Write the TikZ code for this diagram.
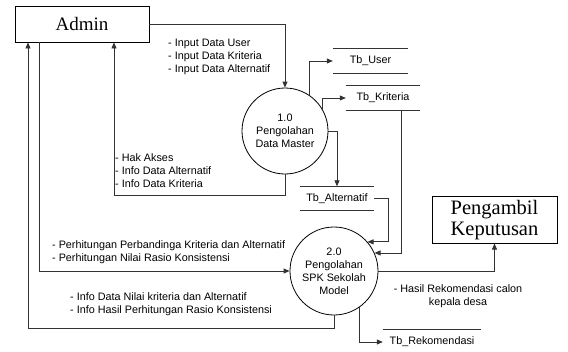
\documentclass[tikz,border=0pt]{standalone}
\usepackage{fontspec}
\setmainfont{Liberation Sans}
\newfontfamily\boxfont{Liberation Serif}
\usetikzlibrary{arrows.meta}

\begin{document}
\begin{tikzpicture}[x=1pt,y=-1pt,font=\fontsize{10.8}{13}\selectfont,
	flow/.style={draw=black!80,line width=0.8pt,-{Triangle[length=6pt,width=5pt]}},
	proc/.style={draw,circle,line width=0.8pt,minimum size=#1,inner sep=0pt,align=center},
	entity/.style={draw,line width=0.8pt,align=center,font=\boxfont\fontsize{19}{21}\selectfont},
	store/.style={minimum width=#1,minimum height=24pt,inner sep=0pt},
	lbl/.style={align=left,anchor=west,inner sep=0pt}]
	\useasboundingbox (0,0) rectangle (568,351);
	\node [entity,minimum width=134pt,minimum height=36pt] (admin) at (82,24) {Admin};
	\node [entity,minimum width=125pt,minimum height=44pt,font=\boxfont\fontsize{20.5}{21}\selectfont] (pk) at (494.5,220) {Pengambil\\Keputusan};
	\node [proc=86pt] (p1) at (285,131) {1.0\\Pengolahan\\Data Master};
	\node [proc=88pt] (p2) at (334,271) {2.0\\Pengolahan\\SPK Sekolah\\Model};
	\node [store=75pt] (tbuser) at (370.5,61) {Tb\_User};
	\node [store=74pt] (tbkrit) at (383,98) {Tb\_Kriteria};
	\node [store=74pt] (tbalt) at (337,198.5) {Tb\_Alternatif};
	\node [store=98pt] (tbrek) at (432,342) {Tb\_Rekomendasi};
	\draw [black!80,line width=0.8pt] (tbuser.north west) -- (tbuser.north east) (tbuser.south west) -- (tbuser.south east);
	\draw [black!80,line width=0.8pt] (tbkrit.north west) -- (tbkrit.north east) (tbkrit.south west) -- (tbkrit.south east);
	\draw [black!80,line width=0.8pt] (tbalt.north west) -- (tbalt.north east) (tbalt.south west) -- (tbalt.south east);
	\draw [black!80,line width=0.8pt] (tbrek.north west) -- (tbrek.north east);
	\coordinate (hak) at (114,195);
	\coordinate (info) at (28,328);
	\draw [flow] (admin.east) -| (p1.north);
	\draw [flow] (p1.56) |- (tbuser.west);
	\draw [flow] (p1.31) |- (tbkrit.west);
	\draw [flow] (p1.east) -| (tbalt.north);
	\draw [flow] (p1.south) |- (hak) -- (admin.south -| hak);
	\draw [flow] (tbalt.east) -- ++(14,0) |- (p2.41);
	\draw [flow] (tbkrit.south east) ++(-19,0) |- (p2.24);
	\draw [flow] (admin.south west) ++(25,0) |- (p2.west);
	\draw [flow] (p2.south) |- (info) -- (admin.south -| info);
	\draw [flow] (p2.-55) |- (tbrek.west);
	\draw [flow] (p2.east) -| (pk.south);
	\node [lbl] (inlbl) at (168,57) {- Input Data User\\- Input Data Kriteria\\- Input Data Alternatif};
	\node [lbl] (hklbl) at (115,171) {- Hak Akses\\- Info Data Alternatif\\- Info Data Kriteria};
	\node [lbl] (hitlbl) at (52,252) {- Perhitungan Perbandinga Kriteria dan Alternatif\\- Perhitungan Nilai Rasio Konsistensi};
	\node [lbl] (inflbl) at (70,304) {- Info Data Nilai kriteria dan Alternatif\\- Info Hasil Perhitungan Rasio Konsistensi};
	\node [align=center,inner sep=0pt] (hslbl) at (458,296) {- Hasil Rekomendasi calon\\kepala desa};
\end{tikzpicture}
\end{document}
